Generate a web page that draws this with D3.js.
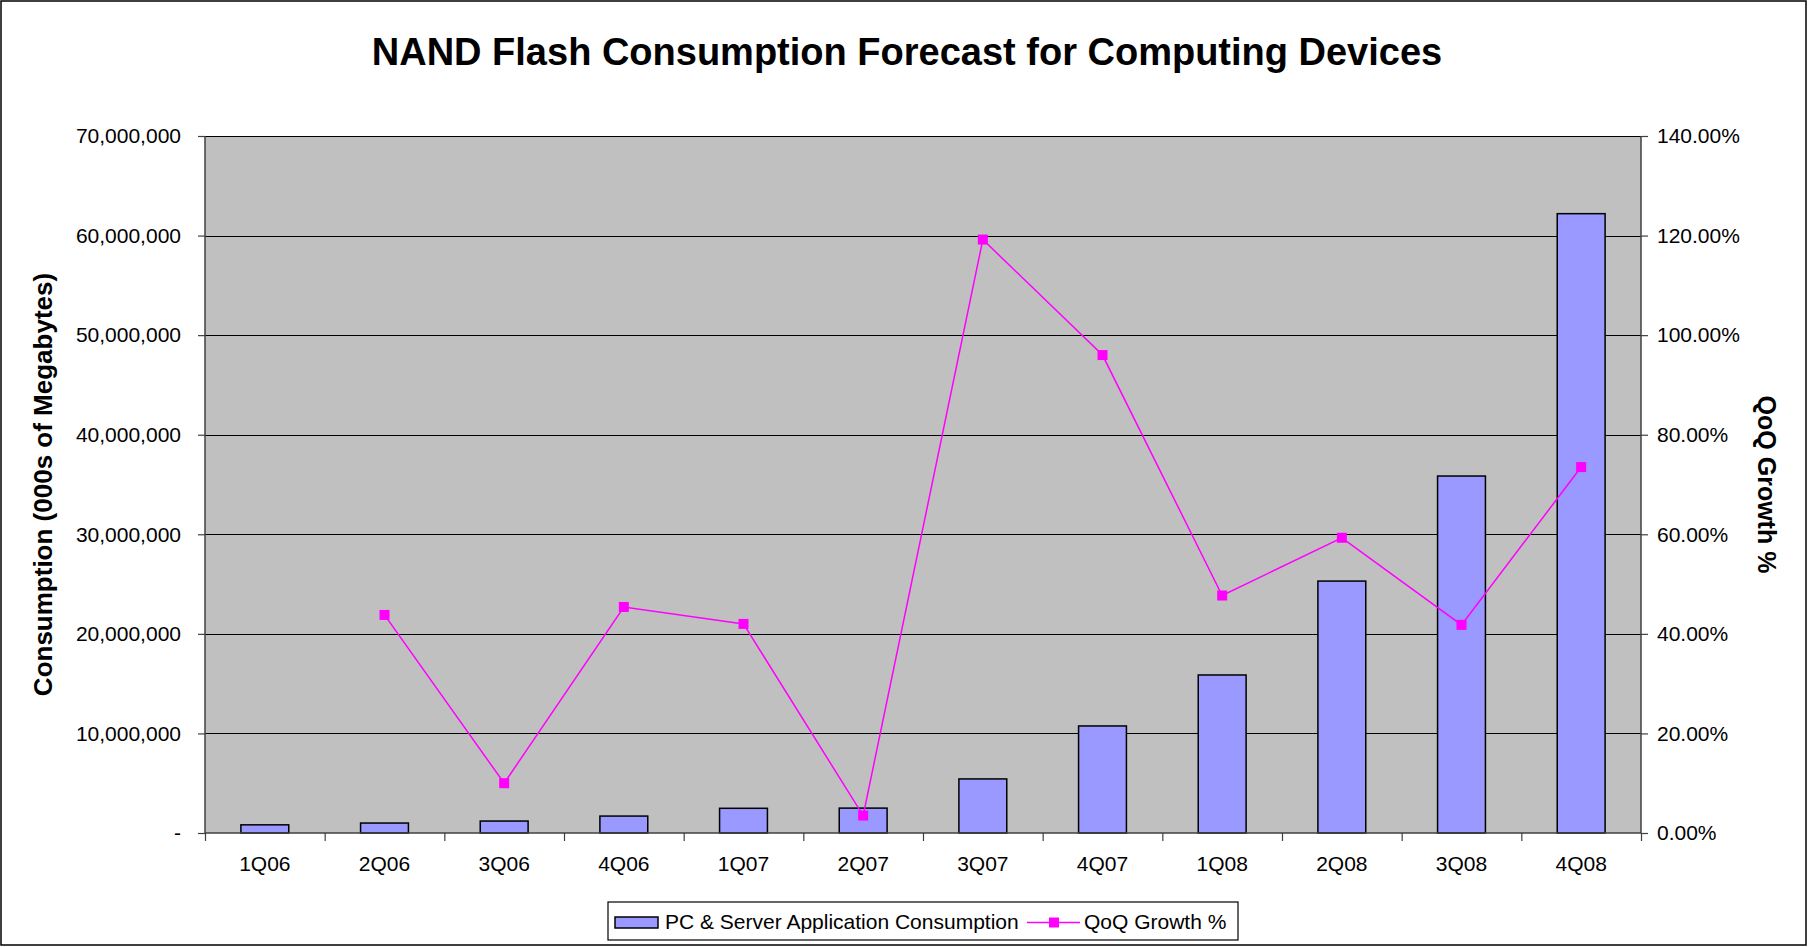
<!DOCTYPE html>
<html>
<head>
<meta charset="utf-8">
<script src="https://cdn.jsdelivr.net/npm/d3@7"></script>
<style>
  body { margin: 0; background: #fff; }
  svg text { font-family: "Liberation Sans", Arial, sans-serif; fill: #000; }
</style>
</head>
<body>
<script>
    //Chart data
    var quarters = ["1Q06", "2Q06", "3Q06", "4Q06", "1Q07", "2Q07",
                    "3Q07", "4Q07", "1Q08", "2Q08", "3Q08", "4Q08"];
    var consumption = [820000, 1000000, 1200000, 1700000, 2480000, 2500000,
                       5430000, 10750000, 15870000, 25300000, 35850000, 62200000];
    var growth = [null, 0.438, 0.100, 0.454, 0.420, 0.035,
                  1.192, 0.960, 0.477, 0.593, 0.418, 0.735];
    var leftTicks = [0, 10000000, 20000000, 30000000, 40000000, 50000000, 60000000, 70000000];
    var rightTicks = [0, 0.2, 0.4, 0.6, 0.8, 1.0, 1.2, 1.4];

    var W = 1809, H = 947;
    var margin = {top: 136, right: 168, bottom: 114, left: 205};
    var width = W - margin.left - margin.right,
        height = H - margin.top - margin.bottom;

    var svg = d3.select("body").append("svg")
        .attr("width", W)
        .attr("height", H);

    //outer chart border
    svg.append("rect")
        .attr("x", 1).attr("y", 1)
        .attr("width", W - 4).attr("height", H - 3)
        .style("fill", "none")
        .style("stroke", "#000")
        .style("stroke-width", 1.5);

    svg.append("text")
        .attr("x", 907)
        .attr("y", 65)
        .style("text-anchor", "middle")
        .style("font-weight", "bold")
        .style("font-size", "38px")
        .text("NAND Flash Consumption Forecast for Computing Devices");

    var g = svg.append("g")
        .attr("transform", "translate(" + margin.left + "," + margin.top + ")");

    //Scales
    var yScale = d3.scaleLinear()
        .domain([0, 70000000])
        .range([height, 0]);
    var y2Scale = d3.scaleLinear()
        .domain([0, 1.4])
        .range([height, 0]);

    //plot area
    g.append("rect")
        .attr("width", width)
        .attr("height", height)
        .style("fill", "#C0C0C0");

    //gridlines
    g.selectAll(".grid")
        .data(leftTicks.slice(1))
        .enter().append("line")
        .attr("class", "grid")
        .attr("x1", 0).attr("x2", width)
        .attr("y1", function(d) { return Math.round(yScale(d)) + 0.5; })
        .attr("y2", function(d) { return Math.round(yScale(d)) + 0.5; })
        .style("stroke", "#000")
        .style("stroke-width", 1);

    //bars (Excel gap width 150%)
    var step = width / quarters.length;
    var barW = step * 0.4;
    g.selectAll(".bar")
        .data(consumption)
        .enter().append("rect")
        .attr("class", "bar")
        .attr("x", function(d, i) { return step * i + (step - barW) / 2; })
        .attr("y", function(d) { return yScale(d); })
        .attr("width", barW)
        .attr("height", function(d) { return height - yScale(d); })
        .style("fill", "#9999FF")
        .style("stroke", "#000")
        .style("stroke-width", 1.5);

    //Axes
    var leftAxis = d3.axisLeft(yScale)
        .tickValues(leftTicks)
        .tickSize(7)
        .tickPadding(17)
        .tickFormat(function(d) { return d === 0 ? "-" : d3.format(",")(d); });
    var gl = g.append("g").call(leftAxis);

    var rightAxis = d3.axisRight(y2Scale)
        .tickValues(rightTicks)
        .tickSize(7)
        .tickPadding(9)
        .tickFormat(d3.format(".2%"));
    var gr = g.append("g")
        .attr("transform", "translate(" + width + ",0)")
        .call(rightAxis);

    var catScale = d3.scaleLinear().domain([0, quarters.length]).range([0, width]);
    var bottomAxis = d3.axisBottom(catScale)
        .tickValues(d3.range(0, quarters.length + 1))
        .tickSize(8)
        .tickFormat("");
    var gb = g.append("g")
        .attr("transform", "translate(0," + height + ")")
        .call(bottomAxis);

    [gl, gr, gb].forEach(function(a) {
        a.selectAll("path").style("stroke", "#404040").style("stroke-width", 1.5);
        a.selectAll("line").style("stroke", "#404040").style("stroke-width", 1.2);
        a.selectAll("text")
            .style("font-size", "21px")
            .style("font-family", "'Liberation Sans', Arial, sans-serif");
    });
    gl.select(".domain").attr("d", "M0,0V" + height);
    gr.select(".domain").attr("d", "M0,0V" + height);
    gb.select(".domain").attr("d", "M0,0H" + width);

    //category labels
    g.selectAll(".xlabel")
        .data(quarters)
        .enter().append("text")
        .attr("class", "xlabel")
        .attr("x", function(d, i) { return step * i + step / 2; })
        .attr("y", height + 38)
        .style("text-anchor", "middle")
        .style("font-size", "21px")
        .text(function(d) { return d; });

    //growth line
    var lineData = growth.map(function(v, i) { return {i: i, v: v}; })
        .filter(function(d) { return d.v !== null; });
    var line = d3.line()
        .x(function(d) { return step * d.i + step / 2; })
        .y(function(d) { return y2Scale(d.v); });
    g.append("path")
        .datum(lineData)
        .attr("d", line)
        .style("fill", "none")
        .style("stroke", "#FF00FF")
        .style("stroke-width", 1.5);
    g.selectAll(".marker")
        .data(lineData)
        .enter().append("rect")
        .attr("class", "marker")
        .attr("x", function(d) { return step * d.i + step / 2 - 5; })
        .attr("y", function(d) { return y2Scale(d.v) - 5; })
        .attr("width", 10)
        .attr("height", 10)
        .style("fill", "#FF00FF");

    //axis titles
    svg.append("text")
        .attr("transform", "translate(52," + (margin.top + height / 2) + ") rotate(-90)")
        .style("text-anchor", "middle")
        .style("font-weight", "bold")
        .style("font-size", "26px")
        .text("Consumption (000s of Megabytes)");
    svg.append("text")
        .attr("transform", "translate(1758," + (margin.top + height / 2) + ") rotate(90)")
        .style("text-anchor", "middle")
        .style("font-weight", "bold")
        .style("font-size", "25px")
        .text("QoQ Growth %");

    //legend
    var lg = svg.append("g").attr("transform", "translate(608,902)");
    lg.append("rect")
        .attr("width", 630).attr("height", 38)
        .style("fill", "#fff")
        .style("stroke", "#000")
        .style("stroke-width", 1.2);
    lg.append("rect")
        .attr("x", 7).attr("y", 15)
        .attr("width", 43).attr("height", 11)
        .style("fill", "#9999FF")
        .style("stroke", "#000")
        .style("stroke-width", 1.5);
    lg.append("text")
        .attr("x", 57).attr("y", 27)
        .style("font-size", "21px")
        .text("PC & Server Application Consumption");
    lg.append("line")
        .attr("x1", 419).attr("x2", 472)
        .attr("y1", 20.5).attr("y2", 20.5)
        .style("stroke", "#FF00FF")
        .style("stroke-width", 1.5);
    lg.append("rect")
        .attr("x", 441).attr("y", 15.5)
        .attr("width", 10).attr("height", 10)
        .style("fill", "#FF00FF");
    lg.append("text")
        .attr("x", 476).attr("y", 27)
        .style("font-size", "21px")
        .text("QoQ Growth %");
</script>
</body>
</html>
